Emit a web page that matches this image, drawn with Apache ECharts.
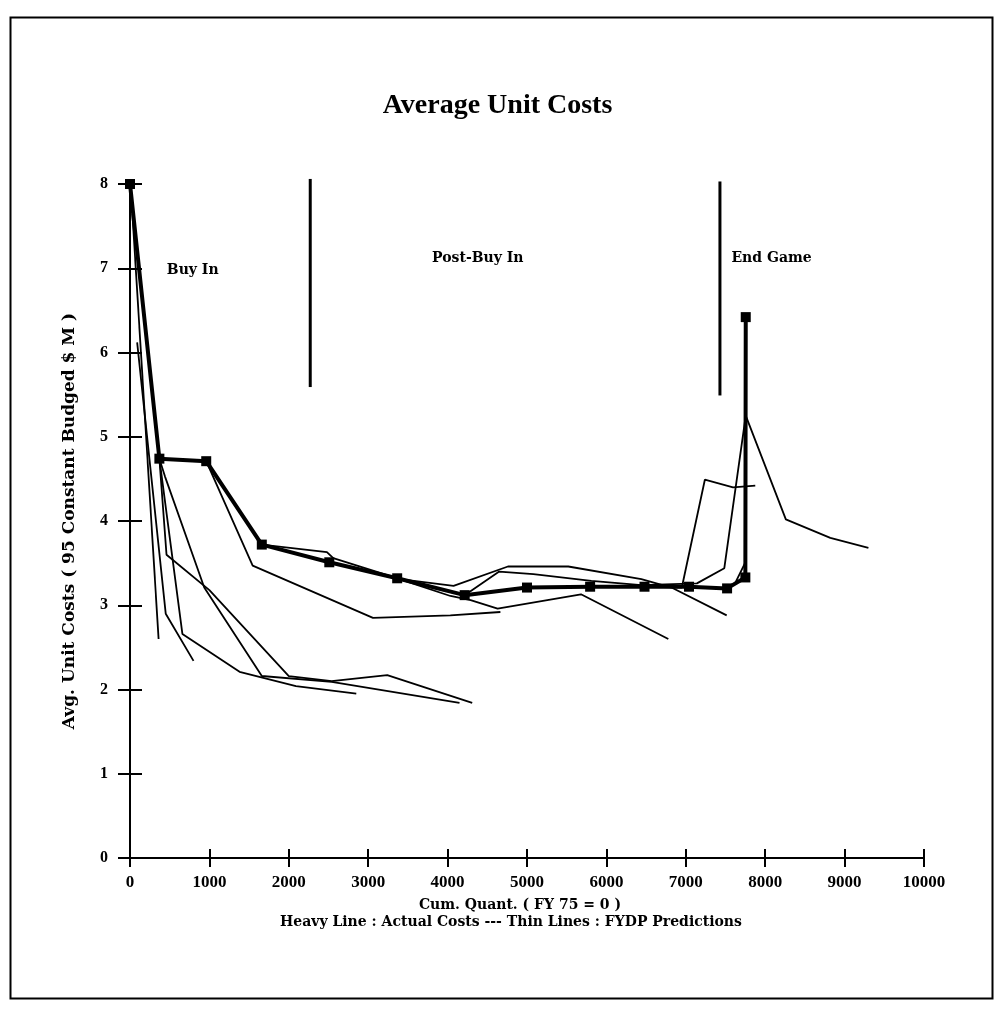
<!DOCTYPE html>
<html>
<head>
<meta charset="utf-8">
<title>Average Unit Costs</title>
<script src="https://cdn.jsdelivr.net/npm/echarts@6/dist/echarts.min.js"></script>
<style>
    html, body { margin: 0; padding: 0; background: #fff; }
    #chart { width: 995px; height: 1011px; }
</style>
</head>
<body>
<div id="chart"></div>
<script>
// axis ticks
var xTicks = [0, 1000, 2000, 3000, 4000, 5000, 6000, 7000, 8000, 9000, 10000];
var yTicks = [0, 1, 2, 3, 4, 5, 6, 7, 8];

// heavy line : actual costs
var actualQty  = [0, 370, 960, 1660, 2510, 3365, 4215, 5000, 5795, 6480, 7040, 7520, 7750, 7755];
var actualCost = [8.0, 4.74, 4.71, 3.72, 3.51, 3.32, 3.12, 3.21, 3.22, 3.22, 3.22, 3.20, 3.33, 6.42];

// thin lines : FYDP predictions
var fydpAQty = [30, 360];
var fydpACost = [7.65, 2.6];
var fydpBQty = [90, 450, 800];
var fydpBCost = [6.12, 2.9, 2.34];
var fydpCQty = [370, 660, 1380, 2090, 2850];
var fydpCCost = [4.74, 2.66, 2.21, 2.04, 1.95];
var fydpDQty = [370, 460, 1000, 2000, 2540, 3240, 4310];
var fydpDCost = [4.74, 3.6, 3.18, 2.16, 2.10, 2.17, 1.84];
var fydpEQty = [370, 440, 935, 1660, 2540, 4150];
var fydpECost = [4.74, 4.53, 3.21, 2.16, 2.09, 1.84];
var fydpFQty = [0, 370, 960, 1545, 3060, 4035, 4665];
var fydpFCost = [8.0, 4.74, 4.71, 3.47, 2.85, 2.88, 2.92];
var fydpGQty = [960, 1660, 2480, 2560, 3400, 4075, 4760, 5520, 6440, 6820, 7515];
var fydpGCost = [4.71, 3.72, 3.63, 3.56, 3.31, 3.23, 3.46, 3.46, 3.31, 3.21, 2.88];
var fydpHQty = [3365, 4036, 4290, 4630, 5680, 6780];
var fydpHCost = [3.32, 3.11, 3.06, 2.96, 3.13, 2.60];
var fydpIQty = [4215, 4650, 5080, 5810, 6440, 7140, 7485, 7755];
var fydpICost = [3.12, 3.40, 3.37, 3.29, 3.24, 3.26, 3.44, 5.25];
var fydpJQty = [6480, 6950, 7240, 7595, 7875];
var fydpJCost = [3.22, 3.21, 4.49, 4.40, 4.42];
var fydpKQty = [7520, 7620, 7750, 7755, 8260, 8820, 9300];
var fydpKCost = [3.20, 3.26, 3.51, 5.25, 4.02, 3.80, 3.68];

// phases
var phaseNames = ['Buy In', 'Post-Buy In', 'End Game'];
var phaseNameQty = [790, 4380, 8080];
var phaseNameCost = [6.98, 7.12, 7.12];
var phaseLineQty = [2270, 7430];
var phaseLineTop = [8.06, 8.03];
var phaseLineBottom = [5.59, 5.49];

var serif = '"Liberation Serif", "Times New Roman", serif';
var wideSerif = '"DejaVu Serif", serif';

function pairs(xs, ys) {
    return xs.map(function (x, i) { return [x, ys[i]]; });
}

var thinLines = [
    [fydpAQty, fydpACost], [fydpBQty, fydpBCost], [fydpCQty, fydpCCost],
    [fydpDQty, fydpDCost], [fydpEQty, fydpECost], [fydpFQty, fydpFCost],
    [fydpGQty, fydpGCost], [fydpHQty, fydpHCost], [fydpIQty, fydpICost],
    [fydpJQty, fydpJCost], [fydpKQty, fydpKCost]
];

var series = [];

thinLines.forEach(function (l, i) {
    series.push({
        name: 'FYDP ' + (i + 1),
        type: 'line',
        data: pairs(l[0], l[1]),
        symbol: 'none',
        clip: false,
        lineStyle: { color: '#000', width: 1.8 },
        z: 2
    });
});

// phase dividers
phaseLineQty.forEach(function (q, i) {
    series.push({
        name: 'divider ' + (i + 1),
        type: 'line',
        data: [[q, phaseLineTop[i]], [q, phaseLineBottom[i]]],
        symbol: 'none',
        clip: false,
        lineStyle: { color: '#000', width: 3 },
        z: 2
    });
});

series.push({
    name: 'Actual Costs',
    type: 'line',
    data: pairs(actualQty, actualCost),
    symbol: 'rect',
    symbolSize: 10,
    clip: false,
    itemStyle: { color: '#000' },
    lineStyle: { color: '#000', width: 4 },
    z: 3
});

var axisFont = { color: '#000', fontFamily: serif, fontWeight: 'bold', fontSize: 17 };

var option = {
    backgroundColor: '#fff',
    animation: false,
    title: {
        text: 'Average Unit Costs',
        left: 'center',
        top: 87,
        textStyle: { color: '#000', fontFamily: serif, fontWeight: 'bold', fontSize: 28 }
    },
    grid: { left: 130, right: 71, top: 184, bottom: 153 },
    xAxis: [{
        type: 'value',
        min: xTicks[0],
        max: xTicks[xTicks.length - 1],
        interval: 1000,
        splitLine: { show: false },
        axisLine: { lineStyle: { color: '#000', width: 2 } },
        axisTick: { length: 9, lineStyle: { color: '#000', width: 2 } },
        axisLabel: Object.assign({ margin: 16, formatter: function (v) { return String(v); } }, axisFont)
    }, {
        type: 'value',
        position: 'bottom',
        min: xTicks[0],
        max: xTicks[xTicks.length - 1],
        interval: 1000,
        splitLine: { show: false },
        axisLine: { show: false },
        axisTick: { inside: true, length: 9, lineStyle: { color: '#000', width: 2 } },
        axisLabel: { show: false }
    }],
    yAxis: [{
        type: 'value',
        min: yTicks[0],
        max: yTicks[yTicks.length - 1],
        interval: 1,
        splitLine: { show: false },
        axisLine: { lineStyle: { color: '#000', width: 2 } },
        axisTick: { length: 12, lineStyle: { color: '#000', width: 2 } },
        axisLabel: Object.assign({}, axisFont, { margin: 22, fontSize: 16 }),
        name: 'Avg. Unit Costs ( 95 Constant Budged $ M )',
        nameLocation: 'middle',
        nameRotate: 90,
        nameGap: 52,
        nameTextStyle: { color: '#000', fontFamily: wideSerif, fontWeight: 'bold', fontSize: 17 }
    }, {
        type: 'value',
        position: 'left',
        min: yTicks[0],
        max: yTicks[yTicks.length - 1],
        interval: 1,
        splitLine: { show: false },
        axisLine: { show: false },
        axisTick: { inside: true, length: 12, lineStyle: { color: '#000', width: 2 } },
        axisLabel: { show: false }
    }],
    graphic: [{
        id: 'frame',
        type: 'rect',
        left: 8,
        top: 15,
        shape: { width: 982, height: 981 },
        style: { fill: null, stroke: '#000', lineWidth: 2 },
        silent: true
    }, {
        id: 'xname',
        type: 'text',
        x: 520,
        y: 905,
        style: {
            text: 'Cum. Quant. ( FY 75 = 0 )',
            align: 'center',
            verticalAlign: 'middle',
            fill: '#000',
            font: 'bold 14px ' + wideSerif
        },
        silent: true
    }, {
        id: 'xnote',
        type: 'text',
        x: 511,
        y: 922,
        style: {
            text: 'Heavy Line : Actual Costs --- Thin Lines : FYDP Predictions',
            align: 'center',
            verticalAlign: 'middle',
            fill: '#000',
            font: 'bold 14px ' + wideSerif
        },
        silent: true
    }],
    series: series
};

var chart = echarts.init(document.getElementById('chart'));
chart.setOption(option);

// phase names placed through the chart's own scales
chart.setOption({
    graphic: phaseNames.map(function (n, i) {
        var p = chart.convertToPixel({ gridIndex: 0 }, [phaseNameQty[i], phaseNameCost[i]]);
        return {
            id: 'phase' + i,
            type: 'text',
            x: p[0],
            y: p[1],
            style: {
                text: n,
                align: 'center',
                verticalAlign: 'middle',
                fill: '#000',
                font: 'bold 14px ' + wideSerif
            },
            silent: true
        };
    })
});
</script>
</body>
</html>
